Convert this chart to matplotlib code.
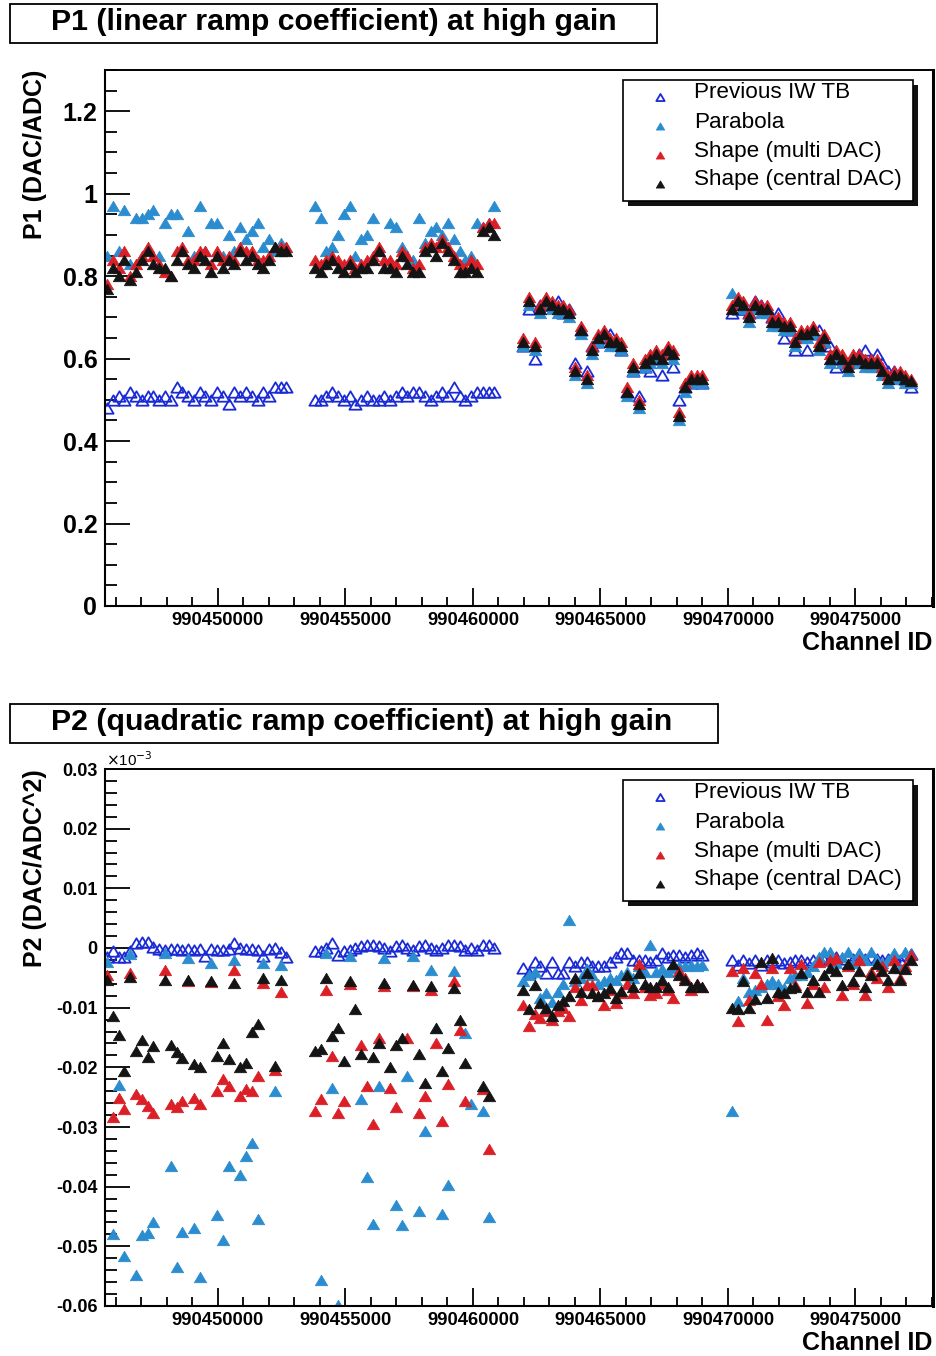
import numpy as np
import matplotlib
matplotlib.use("Agg")
import matplotlib.pyplot as plt
from matplotlib.lines import Line2D
from matplotlib.patches import Rectangle
from matplotlib.path import Path
from matplotlib.ticker import MultipleLocator, FuncFormatter

nan = float("nan")

# ---------------------------------------------------------------- data
# four blocks of 32 channels each
block_first_id = [990445650, 990453800, 990461960, 990470150]
channel_spacing = 227
channels_per_block = 32
channel_id = np.concatenate(
    [first + channel_spacing * np.arange(channels_per_block) for first in block_first_id]
)

series_names = ["Previous IW TB", "Parabola", "Shape (multi DAC)", "Shape (central DAC)"]

# P1: linear ramp coefficient (DAC/ADC)
p1_previous = [
    0.48, 0.50, 0.51, 0.50, 0.52, 0.51, 0.50, 0.51, 0.51, 0.50, 0.51, 0.50, 0.53, 0.52, 0.51, 0.50,
    0.52, 0.51, 0.50, 0.52, 0.51, 0.49, 0.52, 0.51, 0.52, 0.51, 0.50, 0.52, 0.51, 0.53, 0.53, 0.53,
    0.50, 0.50, 0.51, 0.52, 0.51, 0.50, 0.51, 0.49, 0.50, 0.51, 0.50, 0.50, 0.51, 0.50, 0.51, 0.52,
    0.51, 0.52, 0.52, 0.51, 0.50, 0.51, 0.52, 0.51, 0.53, 0.51, 0.50, 0.51, 0.52, 0.52, 0.52, 0.52,
    0.63, 0.72, 0.60, 0.73, 0.73, 0.73, 0.74, 0.71, 0.72, 0.59, 0.67, 0.57, 0.63, 0.64, 0.65, 0.66,
    0.64, 0.62, 0.52, 0.57, 0.51, 0.58, 0.57, 0.60, 0.56, 0.61, 0.58, 0.50, 0.53, 0.54, 0.55, 0.54,
    0.71, 0.72, 0.72, 0.71, 0.74, 0.73, 0.72, 0.70, 0.71, 0.65, 0.67, 0.62, 0.66, 0.62, 0.66, 0.67,
    0.64, 0.63, 0.58, 0.60, 0.59, 0.60, 0.61, 0.62, 0.60, 0.61, 0.59, 0.57, 0.57, 0.56, 0.55, 0.53,
]
p1_parabola = [
    0.85, 0.97, 0.86, 0.96, 0.83, 0.94, 0.94, 0.95, 0.96, 0.85, 0.93, 0.95, 0.95, 0.86, 0.91, 0.85,
    0.97, 0.86, 0.93, 0.93, 0.85, 0.90, 0.86, 0.92, 0.89, 0.91, 0.93, 0.87, 0.89, 0.86, 0.88, 0.87,
    0.97, 0.94, 0.86, 0.87, 0.90, 0.95, 0.97, 0.85, 0.89, 0.90, 0.94, 0.86, 0.84, 0.93, 0.92, 0.87,
    0.85, 0.84, 0.94, 0.88, 0.91, 0.92, 0.90, 0.93, 0.89, 0.86, 0.84, 0.85, 0.93, 0.92, 0.93, 0.97,
    0.63, 0.73, 0.62, 0.71, 0.73, 0.72, 0.71, 0.71, 0.70, 0.56, 0.66, 0.54, 0.61, 0.64, 0.65, 0.63,
    0.63, 0.62, 0.51, 0.57, 0.48, 0.58, 0.59, 0.60, 0.59, 0.61, 0.60, 0.45, 0.52, 0.54, 0.54, 0.54,
    0.76, 0.73, 0.72, 0.69, 0.72, 0.71, 0.71, 0.68, 0.68, 0.67, 0.67, 0.63, 0.65, 0.65, 0.66, 0.62,
    0.64, 0.59, 0.60, 0.59, 0.57, 0.59, 0.59, 0.58, 0.58, 0.58, 0.56, 0.54, 0.55, 0.55, 0.54, 0.54,
]
p1_multi_dac = [
    0.78, 0.84, 0.82, 0.86, 0.80, 0.83, 0.85, 0.87, 0.85, 0.83, 0.81, 0.80, 0.86, 0.87, 0.84, 0.84,
    0.86, 0.86, 0.83, 0.86, 0.84, 0.85, 0.84, 0.87, 0.86, 0.86, 0.84, 0.84, 0.85, 0.87, 0.87, 0.87,
    0.84, 0.83, 0.84, 0.85, 0.84, 0.83, 0.84, 0.82, 0.83, 0.84, 0.85, 0.87, 0.84, 0.84, 0.83, 0.86,
    0.85, 0.82, 0.83, 0.87, 0.88, 0.87, 0.89, 0.87, 0.85, 0.83, 0.82, 0.84, 0.83, 0.92, 0.93, 0.93,
    0.65, 0.75, 0.64, 0.73, 0.75, 0.74, 0.73, 0.73, 0.72, 0.58, 0.68, 0.56, 0.63, 0.66, 0.67, 0.65,
    0.65, 0.64, 0.53, 0.59, 0.50, 0.60, 0.61, 0.62, 0.61, 0.63, 0.62, 0.47, 0.54, 0.56, 0.56, 0.56,
    0.73, 0.75, 0.74, 0.71, 0.74, 0.73, 0.73, 0.70, 0.70, 0.69, 0.69, 0.65, 0.67, 0.67, 0.68, 0.64,
    0.66, 0.61, 0.62, 0.61, 0.59, 0.61, 0.61, 0.60, 0.60, 0.60, 0.58, 0.56, 0.57, 0.57, 0.56, 0.55,
]
p1_central_dac = [
    0.77, 0.82, 0.80, 0.84, 0.79, 0.81, 0.84, 0.86, 0.83, 0.82, 0.82, 0.80, 0.84, 0.86, 0.83, 0.82,
    0.85, 0.84, 0.81, 0.85, 0.82, 0.84, 0.83, 0.86, 0.84, 0.85, 0.83, 0.82, 0.84, 0.87, 0.86, 0.86,
    0.82, 0.81, 0.83, 0.84, 0.82, 0.81, 0.83, 0.81, 0.82, 0.82, 0.84, 0.86, 0.82, 0.82, 0.81, 0.85,
    0.83, 0.81, 0.81, 0.86, 0.87, 0.85, 0.88, 0.86, 0.84, 0.81, 0.81, 0.82, 0.81, 0.91, 0.92, 0.90,
    0.64, 0.74, 0.63, 0.72, 0.74, 0.73, 0.72, 0.72, 0.71, 0.57, 0.67, 0.55, 0.62, 0.65, 0.66, 0.64,
    0.64, 0.63, 0.52, 0.58, 0.49, 0.59, 0.60, 0.61, 0.60, 0.62, 0.61, 0.46, 0.53, 0.55, 0.55, 0.55,
    0.72, 0.74, 0.73, 0.70, 0.73, 0.72, 0.72, 0.69, 0.69, 0.68, 0.68, 0.64, 0.66, 0.66, 0.67, 0.63,
    0.65, 0.60, 0.61, 0.60, 0.58, 0.60, 0.60, 0.59, 0.59, 0.59, 0.57, 0.55, 0.56, 0.56, 0.55, 0.545,
]

# P2: quadratic ramp coefficient (DAC/ADC^2), in units of 1e-3
p2_previous = [
    -0.0015, -0.0005, -0.0015, -0.0015, -0.0005, 0.0008, 0.0010, 0.0010,
    0.0002, -0.0002, -0.0003, -0.0002, -0.0002, -0.0003, -0.0002, -0.0003,
    -0.0002, -0.0014, -0.0002, -0.0003, -0.0003, -0.0002, 0.0008, 0.0000,
    -0.0002, -0.0002, -0.0003, -0.0014, -0.0002, 0.0000, -0.0006, -0.0015,
    -0.0005, -0.0005, 0.0000, 0.0008, -0.0012, -0.0005, -0.0003, 0.0000,
    0.0003, 0.0005, 0.0005, 0.0003, 0.0000, -0.0005, 0.0003, 0.0005,
    0.0000, -0.0003, 0.0003, 0.0005, 0.0000, -0.0003, 0.0000, 0.0005,
    0.0005, 0.0003, -0.0003, 0.0000, -0.0003, 0.0005, 0.0005, 0.0000,
    -0.0034, -0.0042, -0.0023, -0.0031, -0.0042, -0.0023, -0.0042, -0.0042,
    -0.0023, -0.0031, -0.0023, -0.0023, -0.0031, -0.0031, -0.0031, -0.0023,
    -0.0015, -0.0009, -0.0009, -0.0020, -0.0020, -0.0020, -0.0023, -0.0020,
    -0.0009, -0.0015, -0.0012, -0.0012, -0.0015, -0.0012, -0.0009, -0.0012,
    -0.0020, -0.0028, -0.0020, -0.0025, -0.0020, -0.0028, -0.0020, -0.0023,
    -0.0020, -0.0025, -0.0023, -0.0020, -0.0020, -0.0023, -0.0020, -0.0018,
    -0.0020, -0.0018, -0.0015, -0.0018, -0.0012, -0.0018, -0.0012, -0.0018,
    -0.0015, -0.0018, -0.0020, -0.0018, -0.0015, -0.0020, -0.0012, -0.0010,
]
p2_parabola = [
    -0.0023, -0.0479, -0.0229, -0.0517, -0.0010, -0.0548, -0.0481, -0.0478,
    -0.0459, nan, -0.0009, -0.0365, -0.0534, -0.0476, -0.0017, -0.0470,
    -0.0551, nan, -0.0025, -0.0448, -0.0490, -0.0365, -0.0020, -0.0381,
    -0.0348, -0.0326, -0.0454, -0.0025, nan, -0.0240, -0.0028, nan,
    nan, -0.0557, -0.0009, -0.0234, -0.0598, nan, -0.0014, nan,
    -0.0253, -0.0384, -0.0462, -0.0231, -0.0017, nan, -0.0431, -0.0465,
    -0.0214, -0.0014, -0.0440, -0.0306, -0.0037, -0.0134, -0.0445, -0.0398,
    -0.0039, nan, -0.0142, -0.0262, nan, -0.0273, -0.0451, nan,
    -0.0056, -0.0045, -0.0040, -0.0084, -0.0075, -0.0090, -0.0073, -0.0060,
    0.0047, -0.0055, -0.0050, -0.0035, -0.0045, -0.0060, -0.0055, -0.0050,
    -0.0053, -0.0045, -0.0040, -0.0050, -0.0030, -0.0040, 0.0005, -0.0040,
    -0.0035, -0.0040, -0.0034, -0.0030, -0.0030, -0.0028, -0.0030, -0.0028,
    -0.0273, -0.0089, -0.0050, -0.0073, -0.0070, -0.0065, -0.0060, -0.0056,
    -0.0060, -0.0067, -0.0050, -0.0045, -0.0045, -0.0040, -0.0030, -0.0015,
    -0.0006, -0.0006, -0.0025, -0.0015, -0.0006, -0.0025, -0.0008, -0.0020,
    -0.0006, -0.0020, -0.0025, -0.0020, -0.0008, -0.0034, -0.0006, -0.0010,
]
p2_multi_dac = [
    -0.0045, -0.0284, -0.0251, -0.0270, -0.0042, -0.0245, -0.0253, -0.0265,
    -0.0276, nan, -0.0037, -0.0262, -0.0267, -0.0256, -0.0055, -0.0251,
    -0.0262, nan, -0.0057, -0.0240, -0.0220, -0.0231, -0.0037, -0.0248,
    -0.0237, -0.0240, -0.0215, -0.0058, nan, -0.0204, -0.0073, nan,
    -0.0273, -0.0253, -0.0070, -0.0181, -0.0276, -0.0256, -0.0060, nan,
    -0.0162, -0.0231, -0.0295, -0.0151, -0.0064, -0.0234, -0.0267, nan,
    -0.0151, -0.0064, -0.0276, -0.0248, -0.0070, -0.0159, -0.0290, -0.0228,
    -0.0056, -0.0137, -0.0256, nan, nan, -0.0236, -0.0337, nan,
    -0.0095, -0.0131, -0.0110, -0.0117, -0.0105, -0.0120, -0.0105, -0.0100,
    -0.0114, -0.0065, -0.0087, -0.0062, -0.0062, -0.0080, -0.0095, -0.0070,
    -0.0092, -0.0076, -0.0060, -0.0076, -0.0026, -0.0065, -0.0078, -0.0076,
    -0.0060, -0.0070, -0.0084, -0.0039, -0.0050, -0.0070, -0.0060, -0.0065,
    -0.0039, -0.0123, -0.0034, -0.0087, -0.0042, -0.0060, -0.0120, -0.0034,
    -0.0080, -0.0095, -0.0034, -0.0062, -0.0026, -0.0092, -0.0060, -0.0023,
    -0.0065, -0.0020, -0.0017, -0.0078, -0.0030, -0.0060, -0.0020, -0.0078,
    -0.0040, -0.0050, -0.0030, -0.0065, -0.0020, -0.0050, -0.0030, -0.0011,
]
p2_central_dac = [
    -0.0053, -0.0114, -0.0145, -0.0206, -0.0048, -0.0172, -0.0155, -0.0183,
    -0.0165, nan, -0.0053, -0.0162, -0.0175, -0.0184, -0.0053, -0.0195,
    -0.0200, nan, -0.0056, -0.0181, -0.0159, -0.0186, -0.0059, -0.0200,
    -0.0192, -0.0140, -0.0128, -0.0050, nan, -0.0198, -0.0053, nan,
    -0.0173, -0.0170, -0.0050, -0.0148, -0.0134, -0.0189, -0.0056, -0.0103,
    -0.0178, nan, -0.0183, -0.0159, -0.0059, -0.0199, -0.0162, -0.0151,
    nan, -0.0062, -0.0178, -0.0226, -0.0064, -0.0134, -0.0206, -0.0167,
    -0.0067, -0.0120, -0.0192, nan, nan, -0.0231, -0.0248, nan,
    -0.0070, -0.0103, -0.0062, -0.0092, -0.0100, -0.0114, -0.0095, -0.0088,
    -0.0081, -0.0050, -0.0073, -0.0042, -0.0076, -0.0081, -0.0076, -0.0067,
    -0.0084, -0.0072, -0.0045, -0.0065, -0.0042, -0.0060, -0.0065, -0.0065,
    -0.0053, -0.0065, -0.0026, -0.0045, -0.0053, -0.0065, -0.0060, -0.0065,
    -0.0100, -0.0103, -0.0056, -0.0100, -0.0085, -0.0023, -0.0084, -0.0017,
    -0.0073, -0.0076, -0.0067, -0.0065, -0.0042, -0.0073, -0.0053, -0.0073,
    -0.0045, -0.0034, -0.0039, -0.0062, -0.0026, -0.0056, -0.0039, -0.0065,
    -0.0045, -0.0026, -0.0039, -0.0053, -0.0034, -0.0053, -0.0035, -0.0020,
]

p1_ticks = [0, 0.2, 0.4, 0.6, 0.8, 1.0, 1.2]
p2_ticks = [0.03, 0.02, 0.01, 0, -0.01, -0.02, -0.03, -0.04, -0.05, -0.06]

# ---------------------------------------------------------------- style
W, H = 937, 1356
FONT = ["Liberation Sans", "DejaVu Sans"]
plt.rcParams["font.family"] = FONT

colors = ["#1a2bd6", "#2b8ccf", "#db1f27", "#141414"]
tri = Path([(0.0, 0.85), (-1.0, -0.85), (1.0, -0.85), (0.0, 0.85)],
           [Path.MOVETO, Path.LINETO, Path.LINETO, Path.CLOSEPOLY])


def fx(px):
    return px / W


def fy(py):
    return 1 - py / H


fig = plt.figure(figsize=(W / 100, H / 100), dpi=100)
fig.patch.set_facecolor("white")


def marker_style(i, size):
    if i == 0:
        return dict(marker=tri, markersize=size, markerfacecolor="none",
                    markeredgecolor=colors[0], markeredgewidth=1.3, linestyle="none")
    return dict(marker=tri, markersize=size, markerfacecolor=colors[i],
                markeredgecolor=colors[i], markeredgewidth=0.6, linestyle="none")


def panel(top_px, bottom_px, values, ylim, yminor, yticks, ytick_size,
          title, title_box_right, ylabel, xlabel_y, offset):
    ax = fig.add_axes([fx(105), fy(bottom_px), fx(933) - fx(105), fy(top_px) - fy(bottom_px)])
    for i, v in enumerate(values):
        ax.plot(channel_id, v, clip_on=True, **marker_style(i, 8.8))
    ax.set_xlim(990445570, 990478040)
    ax.set_ylim(*ylim)
    ax.xaxis.set_major_locator(MultipleLocator(5000))
    ax.xaxis.set_minor_locator(MultipleLocator(1000))
    ax.set_yticks(yticks)
    ax.yaxis.set_minor_locator(MultipleLocator(yminor))
    ax.xaxis.set_major_formatter(FuncFormatter(lambda v, p: "%d" % round(v)))
    ax.yaxis.set_major_formatter(FuncFormatter(lambda v, p: ("%g" % round(v, 4))))
    ax.tick_params(axis="y", which="major", direction="in", length=18, width=1.3,
                   labelsize=ytick_size, pad=5.5)
    ax.tick_params(axis="y", which="minor", direction="in", length=8.5, width=1.3)
    ax.tick_params(axis="x", which="major", direction="in", length=13, width=1.3,
                   labelsize=13.2, pad=4)
    ax.tick_params(axis="x", which="minor", direction="in", length=6.5, width=1.3)
    for lab in ax.get_xticklabels() + ax.get_yticklabels():
        lab.set_fontweight("bold")
    for side, lw in (("left", 1.5), ("bottom", 1.5), ("top", 1.4), ("right", 2.2)):
        ax.spines[side].set_linewidth(lw)

    # title box
    fig.add_artist(Rectangle((fx(10), fy(43 + offset)), fx(title_box_right) - fx(10),
                             fy(4 + offset) - fy(43 + offset), transform=fig.transFigure,
                             facecolor="white", edgecolor="black", linewidth=1.3))
    fig.text(fx(51), fy(22 + offset), title, fontsize=21.8, fontweight="bold",
             ha="left", va="center")

    # axis titles
    fig.text(fx(35), fy(top_px), ylabel, rotation=90, fontsize=18, fontweight="bold",
             ha="center", va="top")
    fig.text(fx(932), fy(xlabel_y), "Channel ID", fontsize=18, fontweight="bold",
             ha="right", va="center")

    # legend with drop shadow
    lx0, lx1, ly0, ly1 = 623, 913, 80 + offset, 201 + offset
    fig.add_artist(Rectangle((fx(lx0 + 5), fy(ly1 + 5)), fx(lx1) - fx(lx0),
                             fy(ly0) - fy(ly1), transform=fig.transFigure,
                             facecolor="#111111", edgecolor="none"))
    fig.add_artist(Rectangle((fx(lx0), fy(ly1)), fx(lx1) - fx(lx0), fy(ly0) - fy(ly1),
                             transform=fig.transFigure, facecolor="white",
                             edgecolor="black", linewidth=1.2))
    rows = [93, 122, 151, 180]
    for i, name in enumerate(series_names):
        yy = rows[i] + offset
        fig.add_artist(Line2D([fx(660)], [fy(yy + 4)], transform=fig.transFigure,
                              **marker_style(i, 6.0)))
        fig.text(fx(694), fy(yy), name, fontsize=16.2, ha="left", va="center")
    return ax


panel(70, 606, [p1_previous, p1_parabola, p1_multi_dac, p1_central_dac],
      (0, 1.3), 0.05, p1_ticks, 18, "P1 (linear ramp coefficient) at high gain",
      657, "P1 (DAC/ADC)", 643, 0)

panel(769, 1306, [p2_previous, p2_parabola, p2_multi_dac, p2_central_dac],
      (-0.06, 0.03), 0.002, p2_ticks, 13, "P2 (quadratic ramp coefficient) at high gain",
      718, "P2 (DAC/ADC^2)", 1343, 700)
fig.text(fx(106), fy(760), r"$\times$10$^{-3}$", fontsize=11, ha="left", va="center")

fig.savefig("out.png", dpi=100, facecolor="white")
